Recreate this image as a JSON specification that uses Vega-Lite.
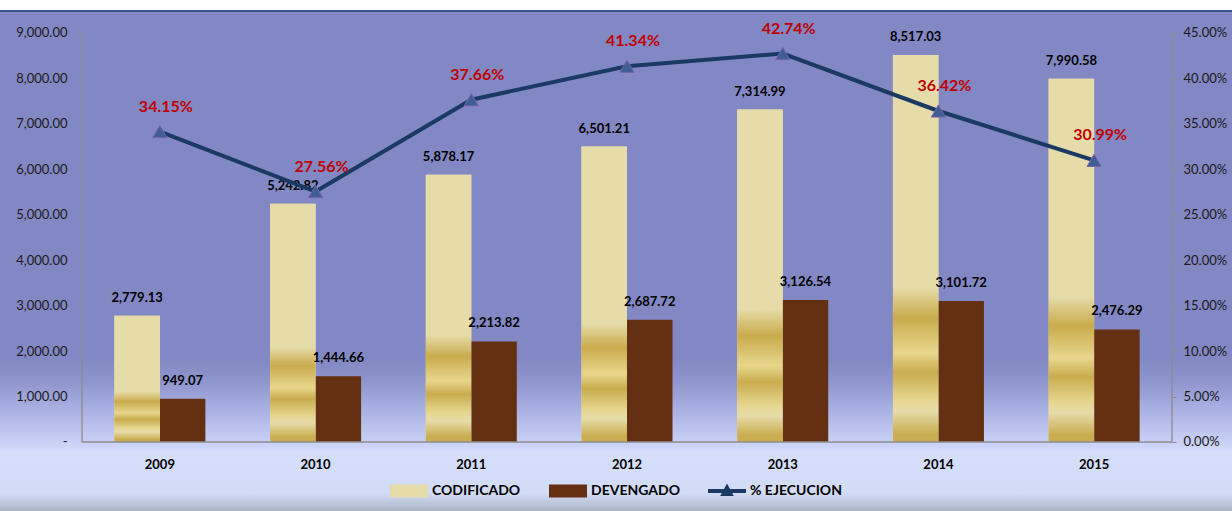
{
  "$schema": "https://vega.github.io/schema/vega-lite/v6.json",
  "width": 1232,
  "height": 511,
  "autosize": {"type": "none"},
  "padding": 0,
  "background": "#ffffff",
  "view": {
    "stroke": null,
    "fill": {"expr": "{gradient:'linear',x1:0,y1:0,x2:0,y2:1,stops:[{offset:0,color:'#ffffff'},{offset:0.0196,color:'#ffffff'},{offset:0.0197,color:'#3b5390'},{offset:0.0234,color:'#3b5390'},{offset:0.0236,color:'#8288c4'},{offset:0.70,color:'#8288c4'},{offset:0.745,color:'#8e94cc'},{offset:0.80,color:'#a9b0e2'},{offset:0.865,color:'#c8d0f5'},{offset:0.885,color:'#d4ddfa'},{offset:0.965,color:'#d3dcf6'},{offset:1,color:'#a9b5c3'}]}"}
  },
  "title": {
    "text": "(EN MILLONES DE DÓLARES)",
    "frame": "group",
    "anchor": "middle",
    "orient": "top",
    "offset": -1,
    "baseline": "alphabetic",
    "dx": -53,
    "font": "Lato",
    "fontSize": 20,
    "fontWeight": "bold",
    "color": "#000000"
  },
  "data": {
    "values": [
      {"year": "2009", "CODIFICADO": 2779.13, "DEVENGADO": 949.07, "pct": 0.3415},
      {"year": "2010", "CODIFICADO": 5242.82, "DEVENGADO": 1444.66, "pct": 0.2756},
      {"year": "2011", "CODIFICADO": 5878.17, "DEVENGADO": 2213.82, "pct": 0.3766},
      {"year": "2012", "CODIFICADO": 6501.21, "DEVENGADO": 2687.72, "pct": 0.4134},
      {"year": "2013", "CODIFICADO": 7314.99, "DEVENGADO": 3126.54, "pct": 0.4274},
      {"year": "2014", "CODIFICADO": 8517.03, "DEVENGADO": 3101.72, "pct": 0.3642},
      {"year": "2015", "CODIFICADO": 7990.58, "DEVENGADO": 2476.29, "pct": 0.3099}
    ]
  },
  "config": {
    "font": "Lato",
    "axis": {"labelFont": "Lato", "labelColor": "#1a1a1a", "grid": false, "title": null},
    "legend": {
      "orient": "none",
      "legendX": 390,
      "legendY": 472,
      "direction": "horizontal",
      "gridAlign": "all",
      "columnPadding": 25,
      "labelOffset": 4,
      "symbolSize": 1444,
      "padding": 0,
      "labelFont": "Lato",
      "labelFontSize": 14,
      "labelFontWeight": "bold",
      "labelColor": "#000000",
      "titleFontSize": 0
    }
  },
  "layer": [
    {
      "layer": [
        {
          "transform": [{"fold": ["CODIFICADO", "DEVENGADO"], "as": ["serie", "valor"]}],
          "mark": {"type": "bar"},
          "encoding": {
            "x": {
              "field": "year", "type": "ordinal",
              "scale": {"domain": ["2009", "2010", "2011", "2012", "2013", "2014", "2015"], "paddingInner": 0, "paddingOuter": 0.456, "align": 0.5775},
              "axis": {"orient": "bottom", "offset": -69, "domain": false, "ticks": false, "labelPadding": 16, "labelAngle": 0, "labelFontSize": 13, "labelFontWeight": "bold", "labelColor": "#000000", "title": null}
            },
            "xOffset": {"field": "serie", "type": "nominal", "scale": {"paddingInner": 0, "paddingOuter": 0.711}},
            "y": {
              "field": "valor", "type": "quantitative",
              "scale": {"domain": [-1518.34, 9726.16], "nice": false, "zero": false},
              "axis": {"orient": "left", "offset": -82, "domain": false, "ticks": false, "labelPadding": 15, "labelFontSize": 13, "values": [0, 1000, 2000, 3000, 4000, 5000, 6000, 7000, 8000, 9000], "labelExpr": "datum.value == 0 ? '-\u00a0\u00a0\u00a0\u00a0\u00a0\u00a0' : format(datum.value, ',.2f')", "title": null}
            },
            "y2": {"datum": 0},
            "color": {
              "field": "serie", "type": "nominal",
              "scale": {"domain": ["CODIFICADO", "DEVENGADO", "% EJECUCION"], "range": ["#e6dcaa", "#652f12", "#1b3a63"]},
              "legend": {
                "title": null,
                "encode": {
                  "symbols": {
                    "update": {
                      "shape": {"signal": "datum.value === '% EJECUCION' ? 'M-1,-0.11H1V0.11H-1Z M0,-0.4L0.36,0.26H-0.36Z' : 'M-1,-0.34H1V0.34H-1Z'"},
                      "fill": {"scale": "color", "field": "value"},
                      "strokeWidth": {"value": 0},
                      "opacity": {"value": 1}
                    }
                  }
                }
              }
            }
          }
        },
        {
          "transform": [
            {"fold": ["CODIFICADO", "DEVENGADO"], "as": ["serie", "valor"]},
            {"filter": "datum.serie === 'CODIFICADO'"}
          ],
          "mark": {
            "type": "bar",
            "color": {"gradient": "linear", "x1": 0, "y1": 0, "x2": 0, "y2": 1, "stops": [
              {"offset": 0, "color": "#e6dcaa"},
              {"offset": 0.6, "color": "#e6dcaa"},
              {"offset": 0.68, "color": "#c9ab4c"},
              {"offset": 0.77, "color": "#e7d68c"},
              {"offset": 0.82, "color": "#c9ac4e"},
              {"offset": 0.89, "color": "#e5d68e"},
              {"offset": 0.92, "color": "#e6dcaa"},
              {"offset": 0.98, "color": "#c9ad50"},
              {"offset": 1, "color": "#c9ad50"}
            ]}
          },
          "encoding": {
            "x": {"field": "year", "type": "ordinal"},
            "xOffset": {"field": "serie", "type": "nominal"},
            "y": {"field": "valor", "type": "quantitative"},
            "y2": {"datum": 0}
          }
        },
        {
          "transform": [{"fold": ["CODIFICADO", "DEVENGADO"], "as": ["serie", "valor"]}],
          "mark": {"type": "text", "dy": -18, "baseline": "middle", "font": "Lato", "fontSize": 13, "fontWeight": "bold", "color": "#000000"},
          "encoding": {
            "x": {"field": "year", "type": "ordinal"},
            "xOffset": {"field": "serie", "type": "nominal"},
            "y": {"field": "valor", "type": "quantitative"},
            "text": {"field": "valor", "type": "quantitative", "format": ",.2f"}
          }
        },
        {
          "data": {"values": [{}]},
          "mark": {"type": "rule", "color": "#8c8c8c", "strokeWidth": 1.3},
          "encoding": {
            "x": {"datum": "2009", "type": "ordinal", "bandPosition": 0},
            "x2": {"datum": "2015", "bandPosition": 1},
            "y": {"datum": 0, "type": "quantitative"}
          }
        },
        {
          "data": {"values": [{}]},
          "mark": {"type": "rule", "color": "#8c8c8c", "strokeWidth": 1.3},
          "encoding": {
            "x": {"datum": "2009", "type": "ordinal", "bandPosition": 0},
            "y": {"datum": 0, "type": "quantitative"},
            "y2": {"datum": 9000}
          }
        },
        {
          "data": {"values": [{}]},
          "mark": {"type": "rule", "color": "#8c8c8c", "strokeWidth": 1.3},
          "encoding": {
            "x": {"datum": "2015", "type": "ordinal", "bandPosition": 1},
            "y": {"datum": 0, "type": "quantitative"},
            "y2": {"datum": 9000}
          }
        }
      ]
    },
    {
      "layer": [
        {
          "mark": {"type": "line", "strokeWidth": 4},
          "encoding": {
            "x": {"field": "year", "type": "ordinal"},
            "y": {
              "field": "pct", "type": "quantitative",
              "scale": {"domain": [-0.075917, 0.486308], "nice": false, "zero": false},
              "axis": {"orient": "right", "offset": -60, "domain": false, "ticks": true, "tickSize": 4, "tickColor": "#8c8c8c", "labelPadding": 7, "labelFontSize": 13, "values": [0, 0.05, 0.1, 0.15, 0.2, 0.25, 0.3, 0.35, 0.4, 0.45], "format": ".2%", "title": null}
            },
            "color": {"datum": "% EJECUCION"}
          }
        },
        {
          "mark": {"type": "point", "shape": "triangle-up", "size": 200, "filled": true, "fill": "#3d5f96", "stroke": "#7e62a8", "strokeWidth": 1, "opacity": 1},
          "encoding": {
            "x": {"field": "year", "type": "ordinal"},
            "y": {"field": "pct", "type": "quantitative"}
          }
        },
        {
          "mark": {"type": "text", "dy": -25, "dx": 6, "baseline": "middle", "font": "Lato", "fontSize": 16, "fontWeight": "bold", "color": "#c00000"},
          "encoding": {
            "x": {"field": "year", "type": "ordinal"},
            "y": {"field": "pct", "type": "quantitative"},
            "text": {"field": "pct", "type": "quantitative", "format": ".2%"}
          }
        }
      ]
    }
  ],
  "resolve": {"scale": {"y": "independent"}}
}
